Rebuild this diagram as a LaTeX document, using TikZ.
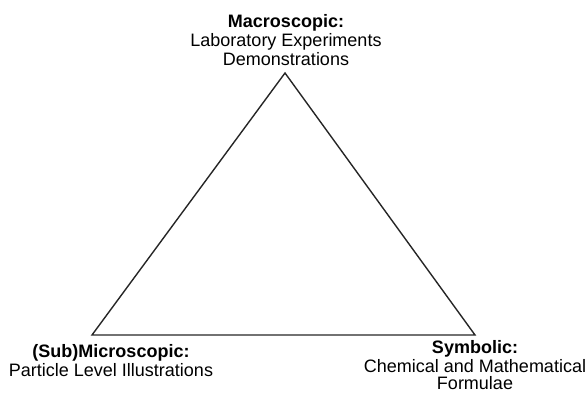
\documentclass[tikz,border=0pt]{standalone}
\usepackage{fontspec}
\setmainfont{Liberation Sans}
\usetikzlibrary{positioning}
\tikzset{
  corner/.style={inner sep=0pt,minimum size=0pt},
  leveltext/.style={align=center,inner sep=0pt,anchor=north,
    font=\fontsize{18}{19}\selectfont},
  levelline/.style={draw=black!85,line width=1.4pt,line join=miter}
}
\begin{document}
\begin{tikzpicture}[x=1pt,y=-1pt]
        \useasboundingbox (0,0) rectangle (588,394);
        \coordinate (macro) at (285,73);
        \coordinate (micro) at (92,335);
        \coordinate (symb) at (475,335);
        \draw[levelline] (macro) -- (micro) -- (symb) -- cycle;

        \node[leveltext] (macrotext) at (286,14) {\textbf{Macroscopic:}\\Laboratory Experiments\\Demonstrations};
        \node[leveltext] (microtext) at (111,344) {\textbf{(Sub)Microscopic:}\\Particle Level Illustrations};
        \node[leveltext] (symbtext) at (475,340) {\textbf{Symbolic:}\\Chemical and Mathematical\\[-1.5pt]Formulae};
      \end{tikzpicture}
\end{document}
